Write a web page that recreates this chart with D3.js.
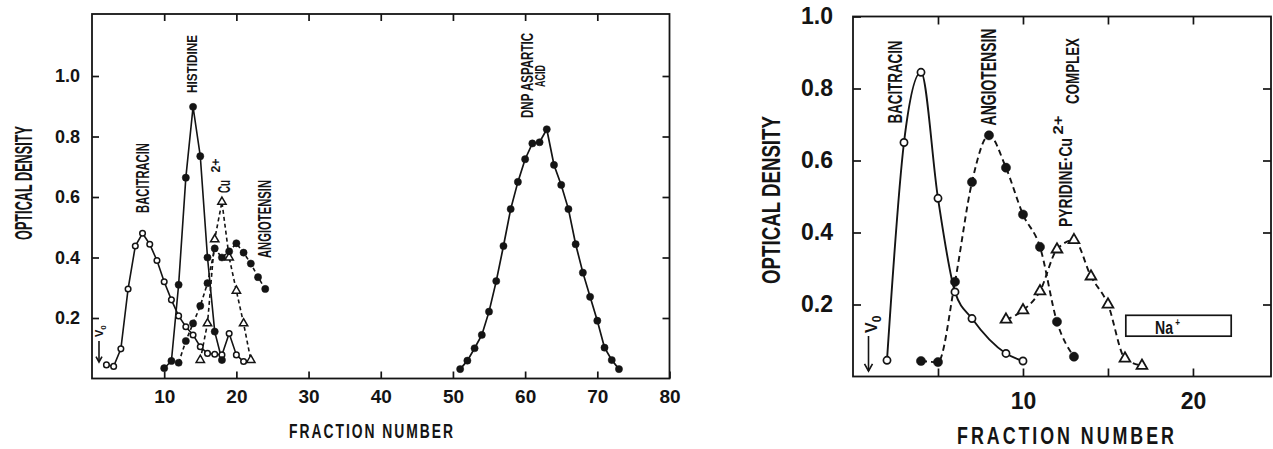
<!DOCTYPE html>
<html><head><meta charset="utf-8">
<script src="https://cdn.jsdelivr.net/npm/d3@7"></script>
<style>
body{margin:0;background:#fff}
svg text{font-family:'Liberation Sans',Arial,sans-serif;font-weight:bold;fill:#141414}
</style></head><body>
<svg id="c" width="1273" height="449"></svg>
<script>
// ---------- data ----------
const leftXTicks = [10,20,30,40,50,60,70,80];
const leftTopTicks = [10,20,30,40,50,60,70];
const leftYTicks = [0.2,0.4,0.6,0.8,1.0];
const rightXTicks = [5,10,15,20];
const rightXLabels = [10,20];
const rightYTicks = [0.2,0.4,0.6,0.8,1.0];

// left panel: [fraction, optical density]
const leftBacitracin = [[2,0.045],[3,0.04],[4,0.098],[5,0.296],[6,0.438],[7,0.48],[8,0.444],[9,0.39],[10,0.32],[11,0.26],[12,0.207],[13,0.171],[14,0.144],[15,0.105],[16,0.083],[17,0.08],[18,0.078],[19,0.149],[20,0.078],[21,0.056]];
const leftHistidine = [[10,0.034],[11,0.058],[12,0.31],[13,0.664],[14,0.898],[15,0.735],[16,0.40],[17,0.155],[18,0.061]];
const leftAngiotensin = [[12,0.052],[13,0.124],[14,0.182],[15,0.24],[16,0.315],[17,0.43],[18,0.40],[19,0.42],[20,0.447],[21,0.416],[22,0.38],[23,0.335],[24,0.296]];
const leftCu = [[15,0.061],[16,0.182],[17,0.46],[18,0.584],[19,0.40],[20,0.29],[21,0.182],[22,0.061]];
const leftDNP = [[51,0.031],[52,0.059],[53,0.10],[54,0.144],[55,0.221],[56,0.322],[57,0.438],[58,0.56],[59,0.65],[60,0.725],[61,0.777],[62,0.781],[63,0.824],[64,0.706],[65,0.64],[66,0.56],[67,0.444],[68,0.35],[69,0.27],[70,0.191],[71,0.102],[72,0.061],[73,0.031]];

// right panel
const rightBacitracin = [[2,0.045],[3,0.65],[4,0.845],[5,0.495],[6,0.235],[7,0.161],[9,0.064],[10,0.043]];
const rightAngiotensin = [[4,0.043],[5,0.04],[6,0.263],[7,0.54],[8,0.67],[9,0.58],[10,0.45],[11,0.36],[12,0.152],[13,0.055]];
const rightPyridine = [[9,0.158],[10,0.184],[11,0.237],[12,0.353],[13,0.379],[14,0.278],[15,0.2],[16,0.05],[17,0.03]];

// ---------- drawing ----------
const INK = "#141414";
const svg = d3.select("#c");

// vertical (rotated) text, centred at (cx,cy), squeezed to a given length
function vtext(g, cx, cy, str, size, len){
  const t = g.append("text").attr("text-anchor","middle").attr("dy","0.36em")
    .attr("font-size", size).text(str);
  const w = t.node().getComputedTextLength();
  const s = len ? len / w : 1;
  t.attr("transform", `translate(${cx},${cy}) rotate(-90) scale(${s},1)`);
  return t;
}
// horizontal text, centred at x, baseline y, squeezed to a length
function htext(g, cx, y, str, size, len, spacing){
  const t = g.append("text").attr("text-anchor","middle").attr("font-size", size)
    .attr("letter-spacing", spacing || 0).text(str);
  const w = t.node().getComputedTextLength();
  t.attr("transform", `translate(${cx},${y}) scale(${len / w},1)`);
  return t;
}
function styleAxis(sel, size){
  sel.select(".domain").remove();
  sel.attr("font-family", null).attr("font-size", size);
  sel.selectAll(".tick line").attr("stroke", INK).attr("stroke-width", 1.7);
  sel.selectAll(".tick text").attr("fill", INK);
}
function series(g, data, x, y, opt){
  const line = d3.line().x(d=>x(d[0])).y(d=>y(d[1])).curve(opt.curve || d3.curveLinear);
  g.append("path").attr("d", line(data)).attr("fill","none").attr("stroke",INK)
    .attr("stroke-width", opt.lw).attr("stroke-dasharray", opt.dash || null);
}
function markers(g, data, x, y, opt){
  if (opt.type === "tri"){
    g.selectAll(null).data(data).join("path")
      .attr("transform", d=>`translate(${x(d[0])},${y(d[1])})`)
      .attr("d", d3.symbol(d3.symbolTriangle, opt.size))
      .attr("fill","#fff").attr("stroke",INK).attr("stroke-width",opt.sw || 1.5);
  } else {
    g.selectAll(null).data(data).join("circle")
      .attr("cx", d=>x(d[0])).attr("cy", d=>y(d[1])).attr("r", opt.r)
      .attr("fill", opt.type === "open" ? "#fff" : INK)
      .attr("stroke", INK).attr("stroke-width", opt.type === "open" ? (opt.sw || 1.5) : 0.5);
  }
}
function arrow(g, x, y1, y2, w){
  g.append("line").attr("x1",x).attr("x2",x).attr("y1",y1).attr("y2",y2).attr("stroke",INK).attr("stroke-width",1.6);
  g.append("path").attr("d",`M${x-w},${y2-w*1.8}L${x},${y2}L${x+w},${y2-w*1.8}`).attr("fill","none").attr("stroke",INK).attr("stroke-width",1.6);
}

// ===== Left panel =====
const xL = d3.scaleLinear().domain([0,80]).range([92,669.5]);
const yL = d3.scaleLinear().domain([0,1.205]).range([378.5,14]);
const gL = svg.append("g");

gL.append("rect").attr("x",xL(0)).attr("y",yL(1.205)).attr("width",xL(80)-xL(0)).attr("height",yL(0)-yL(1.205))
  .attr("fill","none").attr("stroke",INK).attr("stroke-width",1.8);

gL.append("g").attr("transform",`translate(0,${yL(0)})`)
  .call(d3.axisBottom(xL).tickValues(leftXTicks).tickSize(-7).tickPadding(11).tickFormat(d3.format("d")))
  .call(s=>styleAxis(s,19));
gL.append("g").attr("transform",`translate(0,${yL(1.205)})`)
  .call(d3.axisTop(xL).tickValues(leftTopTicks).tickSize(-7).tickFormat(""))
  .call(s=>styleAxis(s,19));
gL.append("g").attr("transform",`translate(${xL(0)},0)`)
  .call(d3.axisLeft(yL).tickValues(leftYTicks).tickSize(-7).tickPadding(12).tickFormat(d3.format(".1f")))
  .call(s=>styleAxis(s,18));
gL.append("g").attr("transform",`translate(${xL(80)},0)`)
  .call(d3.axisRight(yL).tickValues(leftYTicks).tickSize(-7).tickFormat(""))
  .call(s=>styleAxis(s,18));

series(gL, leftBacitracin, xL, yL, {lw:1.6});
series(gL, leftHistidine, xL, yL, {lw:1.6});
series(gL, leftAngiotensin, xL, yL, {lw:1.6, dash:"4,3"});
series(gL, leftCu, xL, yL, {lw:1.6, dash:"4,3"});
series(gL, leftDNP, xL, yL, {lw:1.7});
markers(gL, leftBacitracin, xL, yL, {type:"open", r:2.8});
markers(gL, leftHistidine, xL, yL, {type:"fill", r:3.6});
markers(gL, leftAngiotensin, xL, yL, {type:"fill", r:3.6});
markers(gL, leftCu, xL, yL, {type:"tri", size:30});
markers(gL, leftDNP, xL, yL, {type:"fill", r:3.6});

// annotations
vtext(gL, 142.5, 178, "BACITRACIN", 18, 70);
vtext(gL, 191.7, 64, "HISTIDINE", 14, 58);
vtext(gL, 224, 186.5, "Cu", 16, 13);
vtext(gL, 216, 165.5, "2+", 12, 14);
vtext(gL, 264.5, 219, "ANGIOTENSIN", 18, 78);
vtext(gL, 527.5, 75.5, "DNP ASPARTIC", 16, 85);
vtext(gL, 540, 76, "ACID", 15, 22);
// V0
const v0L = gL.append("text").attr("transform","translate(103,337) rotate(-90)").attr("font-size",11);
v0L.append("tspan").text("V");
v0L.append("tspan").attr("dy",3).attr("font-size",8).text("0");
arrow(gL, 99, 341, 362, 3);

// titles
vtext(gL, 24, 183, "OPTICAL DENSITY", 23, 114);
htext(gL, 372, 438, "FRACTION NUMBER", 21, 166, 3);

// ===== Right panel =====
const xR = d3.scaleLinear().domain([0,24.65]).range([853,1272]);
const yR = d3.scaleLinear().domain([0,1]).range([376.5,16.5]);
const gR = svg.append("g");

gR.append("rect").attr("x",xR(0)).attr("y",yR(1)).attr("width",xR(24.65)-xR(0)-1).attr("height",yR(0)-yR(1))
  .attr("fill","none").attr("stroke",INK).attr("stroke-width",1.8);

gR.append("g").attr("transform",`translate(0,${yR(0)})`)
  .call(d3.axisBottom(xR).tickValues(rightXTicks).tickSize(-8).tickPadding(16).tickFormat(d=>rightXLabels.includes(d)?d:""))
  .call(s=>styleAxis(s,23));
gR.append("g").attr("transform",`translate(0,${yR(1)})`)
  .call(d3.axisTop(xR).tickValues(rightXTicks).tickSize(-8).tickFormat(""))
  .call(s=>styleAxis(s,23));
gR.append("g").attr("transform",`translate(${xR(0)},0)`)
  .call(d3.axisLeft(yR).tickValues(rightYTicks).tickSize(-8).tickPadding(20).tickFormat(d3.format(".1f")))
  .call(s=>styleAxis(s,23));
gR.append("g").attr("transform",`translate(${xR(24.65)-1},0)`)
  .call(d3.axisRight(yR).tickValues(rightYTicks.slice(0,4)).tickSize(-8).tickFormat(""))
  .call(s=>styleAxis(s,23));

series(gR, rightBacitracin, xR, yR, {lw:1.9, curve:d3.curveMonotoneX});
series(gR, rightAngiotensin, xR, yR, {lw:1.9, dash:"6,4", curve:d3.curveMonotoneX});
series(gR, rightPyridine, xR, yR, {lw:1.9, dash:"6,4", curve:d3.curveMonotoneX});
markers(gR, rightBacitracin, xR, yR, {type:"open", r:3.6, sw:1.7});
markers(gR, rightAngiotensin, xR, yR, {type:"fill", r:4.6});
markers(gR, rightPyridine, xR, yR, {type:"tri", size:50, sw:1.8});

vtext(gR, 894, 82, "BACITRACIN", 21, 83);
vtext(gR, 988, 77, "ANGIOTENSIN", 22, 97);
vtext(gR, 1066, 182.5, "PYRIDINE·Cu", 18, 89);
vtext(gR, 1057.5, 125, "2+", 15, 19);
vtext(gR, 1072, 71, "COMPLEX", 19, 66);

// Na+ box
gR.append("rect").attr("x",xR(16.05)).attr("y",yR(0.17)).attr("width",xR(22.25)-xR(16.05)).attr("height",yR(0.112)-yR(0.17))
  .attr("fill","none").attr("stroke",INK).attr("stroke-width",1.7);
const na = gR.append("text").attr("font-size",19);
na.append("tspan").text("Na");
na.append("tspan").attr("dx",3).attr("dy",-8).attr("font-size",11).text("+");
{
  const w = na.node().getBBox().width;
  na.attr("transform", `translate(1155,334) scale(${25 / w},1)`);
}

// V0
const v0R = gR.append("text").attr("transform","translate(877,333) rotate(-90)").attr("font-size",16);
v0R.append("tspan").text("V");
v0R.append("tspan").attr("dy",4).attr("font-size",12).text("0");
arrow(gR, 868.5, 336, 371, 4);

vtext(gR, 771, 200, "OPTICAL DENSITY", 25, 168);
htext(gR, 1067, 444, "FRACTION NUMBER", 24, 220, 4);
</script>
</body></html>
